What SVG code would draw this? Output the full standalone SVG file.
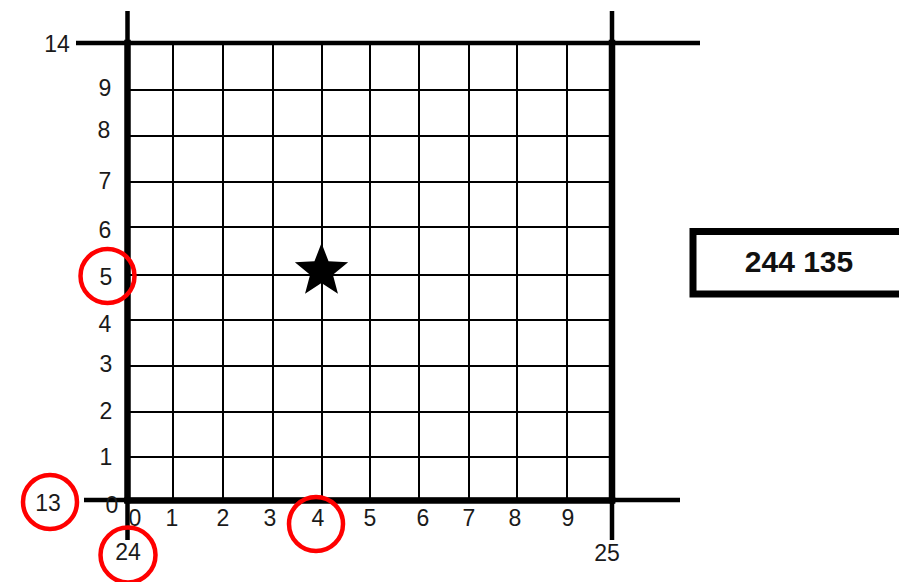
<svg xmlns="http://www.w3.org/2000/svg" width="899" height="582" viewBox="0 0 899 582">
  <style>
    .grid line { stroke: #000; stroke-width: 2; }
    .axis { stroke: #000; stroke-width: 4.5; stroke-linecap: butt; }
    .border { stroke: #000; stroke-width: 6.5; stroke-linecap: square; }
    .lbl { font-family: "Liberation Sans", Arial, sans-serif; font-size: 23px; fill: #1a1a1a; text-anchor: middle; }
    .ring { fill: none; stroke: #ff0000; stroke-width: 4.5; }
    .boxtxt { font-family: "Liberation Sans", Arial, sans-serif; font-size: 30px; font-weight: bold; fill: #111; text-anchor: middle; }
  </style>
  <rect width="899" height="582" fill="#fff"/>

  <g id="grid" class="grid">
    <line x1="173" y1="43" x2="173" y2="500"/>
    <line x1="223" y1="43" x2="223" y2="500"/>
    <line x1="273" y1="43" x2="273" y2="500"/>
    <line x1="322" y1="43" x2="322" y2="500"/>
    <line x1="370" y1="43" x2="370" y2="500"/>
    <line x1="419" y1="43" x2="419" y2="500"/>
    <line x1="469" y1="43" x2="469" y2="500"/>
    <line x1="517" y1="43" x2="517" y2="500"/>
    <line x1="567" y1="43" x2="567" y2="500"/>
    <line x1="127" y1="90" x2="612" y2="90"/>
    <line x1="127" y1="136" x2="612" y2="136"/>
    <line x1="127" y1="182" x2="612" y2="182"/>
    <line x1="127" y1="227" x2="612" y2="227"/>
    <line x1="127" y1="275" x2="612" y2="275"/>
    <line x1="127" y1="320" x2="612" y2="320"/>
    <line x1="127" y1="366" x2="612" y2="366"/>
    <line x1="127" y1="412" x2="612" y2="412"/>
    <line x1="127" y1="457" x2="612" y2="457"/>
  </g>

  <g id="axes">
    <line class="axis" x1="76" y1="43" x2="700" y2="43"/>
    <line class="axis" x1="84" y1="500" x2="680" y2="500"/>
    <line class="axis" x1="127.5" y1="11" x2="127.5" y2="540"/>
    <line class="axis" x1="612" y1="11" x2="612" y2="540"/>
    <line class="border" x1="127.5" y1="43" x2="127.5" y2="500"/>
    <line class="border" x1="612" y1="43" x2="612" y2="500"/>
    <line class="border" x1="127.5" y1="500.5" x2="612" y2="500.5"/>
  </g>

  <g id="y-labels">
    <text class="lbl" x="57" y="52">14</text>
    <text class="lbl" x="105" y="96">9</text>
    <text class="lbl" x="104" y="138">8</text>
    <text class="lbl" x="105" y="189">7</text>
    <text class="lbl" x="105" y="238">6</text>
    <text class="lbl" x="106" y="285">5</text>
    <text class="lbl" x="105" y="332">4</text>
    <text class="lbl" x="106" y="372">3</text>
    <text class="lbl" x="106" y="419">2</text>
    <text class="lbl" x="106" y="465">1</text>
    <text class="lbl" x="112" y="513">0</text>
    <text class="lbl" x="48" y="511">13</text>
  </g>

  <g id="x-labels">
    <text class="lbl" x="135" y="526">0</text>
    <text class="lbl" x="172" y="526">1</text>
    <text class="lbl" x="223" y="526">2</text>
    <text class="lbl" x="270" y="526">3</text>
    <text class="lbl" x="318" y="526">4</text>
    <text class="lbl" x="370" y="526">5</text>
    <text class="lbl" x="423" y="526">6</text>
    <text class="lbl" x="469" y="526">7</text>
    <text class="lbl" x="515" y="526">8</text>
    <text class="lbl" x="568" y="526">9</text>
    <text class="lbl" x="128" y="560">24</text>
    <text class="lbl" x="607" y="561">25</text>
  </g>

  <g id="star">
    <path d="M321.5,243 L328.55,261.29 L348.13,262.35 L332.91,274.71 L337.96,293.65 L321.5,283 L305.04,293.65 L310.09,274.71 L294.87,262.35 L314.45,261.29 Z" fill="#000"/>
  </g>

  <g id="circles">
    <circle class="ring" cx="107.5" cy="276" r="27"/>
    <circle class="ring" cx="50" cy="502" r="27"/>
    <circle class="ring" cx="128" cy="555" r="27.5"/>
    <circle class="ring" cx="316" cy="524" r="27"/>
  </g>

  <g id="answer-box">
    <rect x="693" y="231.5" width="220" height="62.5" fill="#fff" stroke="#000" stroke-width="7"/>
    <text class="boxtxt" x="799" y="272">244 135</text>
  </g>
</svg>
